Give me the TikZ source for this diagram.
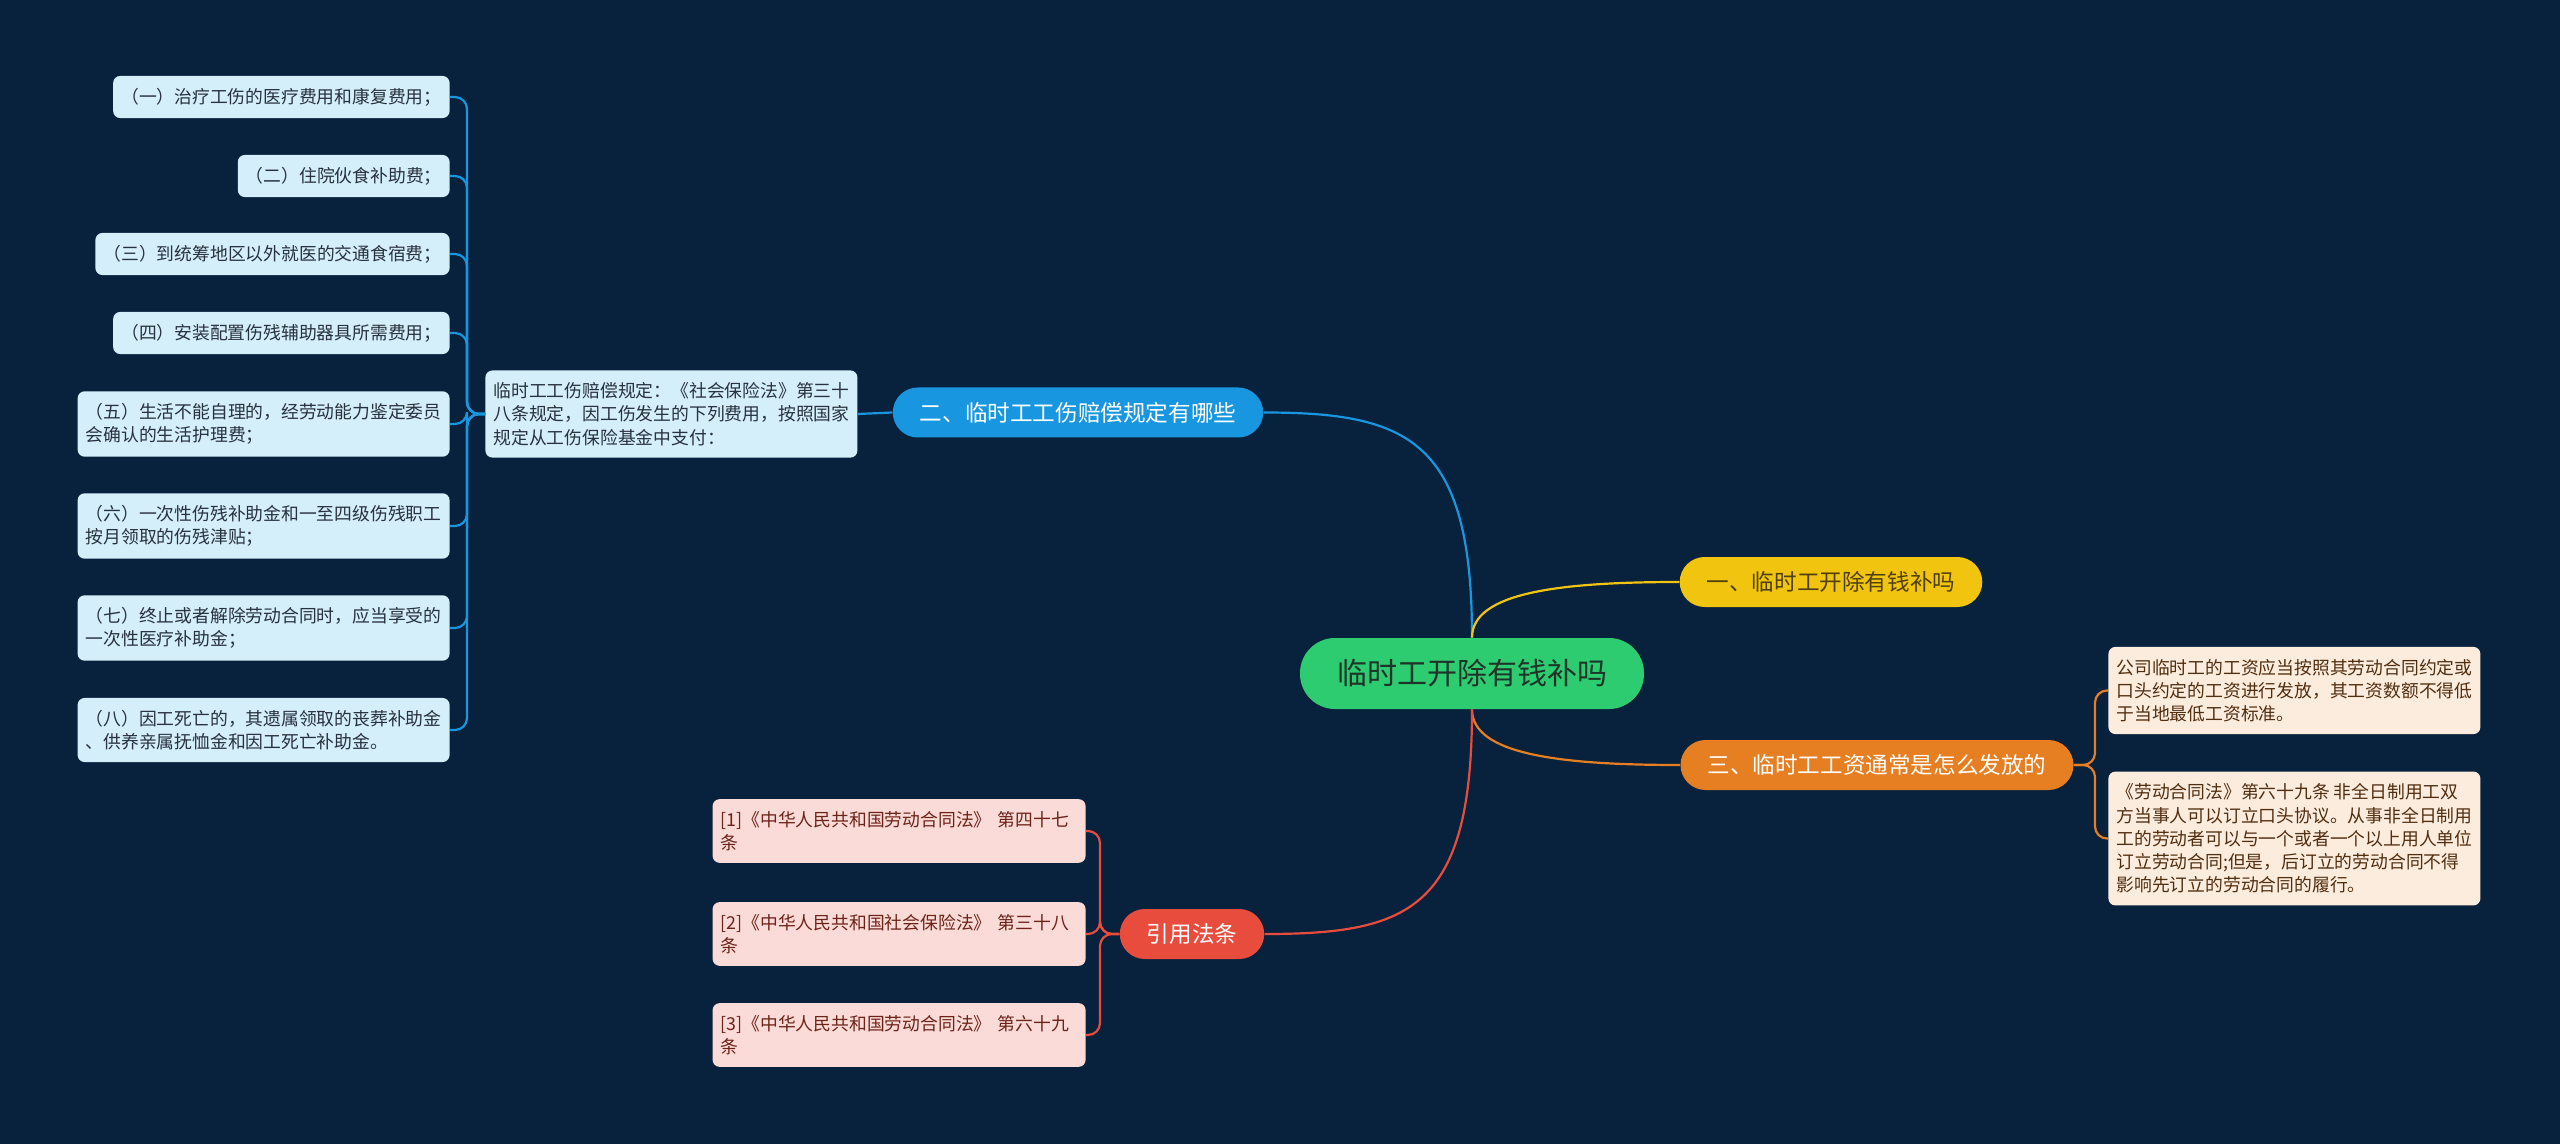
\documentclass[tikz,border=0pt]{standalone}
\usepackage{fontspec}
\setmainfont{Noto Sans CJK SC}
\definecolor{bgnavy}{RGB}{8,33,61}
\definecolor{rootgreen}{RGB}{46,204,113}
\definecolor{roottext}{RGB}{30,52,40}
\definecolor{qblue}{RGB}{24,150,224}
\definecolor{qyellow}{RGB}{241,196,15}
\definecolor{qyellowtext}{RGB}{80,64,10}
\definecolor{qorange}{RGB}{230,126,34}
\definecolor{qred}{RGB}{231,76,60}
\definecolor{leafblue}{RGB}{212,238,250}
\definecolor{leafbluetext}{RGB}{40,50,62}
\definecolor{leaforange}{RGB}{252,236,222}
\definecolor{leaforangetext}{RGB}{82,46,16}
\definecolor{leafred}{RGB}{250,219,216}
\definecolor{leafredtext}{RGB}{110,35,25}
\begin{document}
\begin{tikzpicture}[x=.5pt,y=-.5pt,
  leaf/.style={rounded corners=3.5pt,inner xsep=4pt,inner ysep=6pt,align=left,font=\fontsize{8.9}{11.65}\selectfont},
  leafb/.style={leaf,fill=leafblue,text=leafbluetext},
  leafo/.style={leaf,fill=leaforange,text=leaforangetext},
  leafr/.style={leaf,fill=leafred,text=leafredtext,text width=178.5pt},
  branch/.style={rounded corners=12.5pt,minimum height=25pt,inner xsep=13.5pt,font=\fontsize{11.3}{13}\selectfont},
  link/.style={line width=1.1pt},
  fork/.style={line width=1.1pt,rounded corners=6pt}]
\useasboundingbox (0,0) rectangle (2560,1144);
\fill[bgnavy] (0,0) rectangle (2560,1144);

\node[fill=rootgreen,text=roottext,rounded corners=17.5pt,minimum height=35.5pt,inner xsep=18.5pt,font=\fontsize{15}{17}\selectfont] (root) at (1472,673.5) {临时工开除有钱补吗};
\node[branch,fill=qyellow,text=qyellowtext] (q1) at (1831,582) {一、临时工开除有钱补吗};
\node[branch,fill=qblue,text=white] (q2) at (1078,412.5) {二、临时工工伤赔偿规定有哪些};
\node[branch,fill=qorange,text=white] (q3) at (1877,765) {三、临时工工资通常是怎么发放的};
\node[branch,fill=qred,text=white] (law) at (1192,934) {引用法条};

\node[leafb,anchor=west] (rule) at (485,414) {临时工工伤赔偿规定：《社会保险法》第三十\\八条规定，因工伤发生的下列费用，按照国家\\规定从工伤保险基金中支付：};
\node[leafb,anchor=east] (item1) at (450,97) {（一）治疗工伤的医疗费用和康复费用；};
\node[leafb,anchor=east] (item2) at (450,176) {（二）住院伙食补助费；};
\node[leafb,anchor=east] (item3) at (450,254) {（三）到统筹地区以外就医的交通食宿费；};
\node[leafb,anchor=east] (item4) at (450,333) {（四）安装配置伤残辅助器具所需费用；};
\node[leafb,anchor=east] (item5) at (450,424) {（五）生活不能自理的，经劳动能力鉴定委员\\会确认的生活护理费；};
\node[leafb,anchor=east] (item6) at (450,526) {（六）一次性伤残补助金和一至四级伤残职工\\按月领取的伤残津贴；};
\node[leafb,anchor=east] (item7) at (450,628) {（七）终止或者解除劳动合同时，应当享受的\\一次性医疗补助金；};
\node[leafb,anchor=east] (item8) at (450,730) {（八）因工死亡的，其遗属领取的丧葬补助金\\、供养亲属抚恤金和因工死亡补助金。};

\node[leafo,anchor=west] (pay1) at (2108,690.5) {公司临时工的工资应当按照其劳动合同约定或\\口头约定的工资进行发放，其工资数额不得低\\于当地最低工资标准。};
\node[leafo,anchor=west] (pay2) at (2108,838.5) {《劳动合同法》第六十九条 非全日制用工双\\方当事人可以订立口头协议。从事非全日制用\\工的劳动者可以与一个或者一个以上用人单位\\订立劳动合同;但是，后订立的劳动合同不得\\影响先订立的劳动合同的履行。};

\node[leafr,anchor=east] (ref1) at (1086,831) {[1]《中华人民共和国劳动合同法》 第四十七\\条};
\node[leafr,anchor=east] (ref2) at (1086,934) {[2]《中华人民共和国社会保险法》 第三十八\\条};
\node[leafr,anchor=east] (ref3) at (1086,1035) {[3]《中华人民共和国劳动合同法》 第六十九\\条};

\coordinate (forkb) at (467,0);
\coordinate (forko) at (2095,0);
\coordinate (forkr) at (1100,0);

% root to branches
\draw[link,qblue] (root.north) .. controls +(0,-198) and +(145,0) .. (q2.east);
\draw[link,qyellow] (root.north) .. controls +(0,-45) and +(-120,0) .. (q1.west);
\draw[link,qorange] (root.south) .. controls +(0,45) and +(-120,0) .. (q3.west);
\draw[link,qred] (root.south) .. controls +(0,200) and +(145,0) .. (law.east);

% branches to leaves
\draw[link,qblue] (q2.west) -- (rule.east);
\foreach \i in {1,...,8}
  \draw[fork,qblue] (rule.west) -- (rule.west -| forkb) |- (item\i.east);
\foreach \i in {1,2}
  \draw[fork,qorange] (q3.east) -- (q3.east -| forko) |- (pay\i.west);
\foreach \i in {1,2,3}
  \draw[fork,qred] (law.west) -- (law.west -| forkr) |- (ref\i.east);
\end{tikzpicture}
\end{document}
